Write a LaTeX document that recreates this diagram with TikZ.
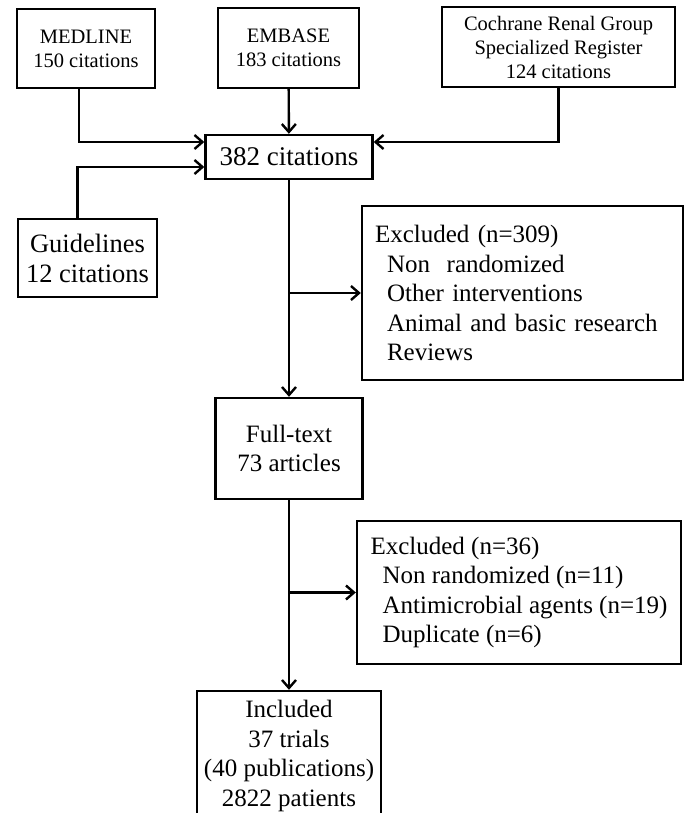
\documentclass[tikz,border=0pt]{standalone}
\usepackage{fontspec}
\setmainfont{Liberation Serif}
\usetikzlibrary{arrows.meta}

\begin{document}
\begin{tikzpicture}[
		x=1pt, y=-1pt,
		every node/.style={rectangle, draw, line width=2.4pt, inner sep=0pt, align=center},
		topfont/.style={font=\fontsize{20.5}{24}\selectfont},
		mainfont/.style={font=\fontsize{25}{29.5}\selectfont},
		exclbox/.style={mainfont, align=left},
		arr/.style={line width=2.4pt, -{Straight Barb[length=8pt, width=14pt, line width=2.4pt]}}
	]
  \useasboundingbox (0,0) rectangle (685,813);
  \clip (0,0) rectangle (685,813);
  \node (medline) [topfont, minimum width=138pt, minimum height=79pt] at (86, 48.5) {MEDLINE\\150 citations};
  \node (embase) [topfont, minimum width=141pt, minimum height=80pt] at (288.5, 48) {EMBASE\\183 citations};
  \node (cochrane) [topfont, minimum width=233pt, minimum height=80pt] at (558.5, 47) {Cochrane Renal Group\\Specialized Register\\124 citations};
  \node (total) [font=\fontsize{27}{30}\selectfont, minimum width=167pt, minimum height=44pt] at (289, 157) {382 citations};
  \node (guidelines) [font=\fontsize{26.5}{30}\selectfont, minimum width=139pt, minimum height=78pt] at (87.5, 258) {Guidelines\\12 citations};
  \node (excl_a) [exclbox, inner xsep=13pt, text width=295pt, minimum height=174pt] at (522.5, 293) {Excluded (n=309)\\
    \hspace*{12pt}Non~~randomized\\
    \hspace*{12pt}Other interventions\\
    \hspace*{12pt}Animal and basic research\\
    \hspace*{12pt}Reviews};
  \node (fulltext) [mainfont, minimum width=147pt, minimum height=101pt] at (289, 448.5) {Full-text\\73 articles};
  \node (excl_b) [exclbox, minimum width=324pt, minimum height=143pt] at (519, 592.5) {Excluded (n=36)\\
    \hspace*{12pt}Non randomized (n=11)\\
    \hspace*{12pt}Antimicrobial agents (n=19)\\
    \hspace*{12pt}Duplicate (n=6)};
  \node (included) [mainfont, minimum width=184pt, minimum height=130pt] at (289, 756) {Included\\37 trials\\(40 publications)\\2822 patients};
  \draw[arr] ([xshift=-7pt]medline.south) |- ([yshift=15pt]total.west);
  \draw[arr] (embase) -- (total);
  \draw[arr] (cochrane.south) |- ([yshift=15pt]total.east);
  \draw[arr] ([xshift=-10pt]guidelines.north) |- ([yshift=-10pt]total.west);
  \draw[arr] (total) -- (fulltext);
  \draw[arr] (total.south |- excl_a.west) -- (excl_a.west);
  \draw[arr] (fulltext) -- (included);
  \draw[arr] (fulltext.south |- excl_b.west) -- (excl_b.west);
\end{tikzpicture}
\end{document}
